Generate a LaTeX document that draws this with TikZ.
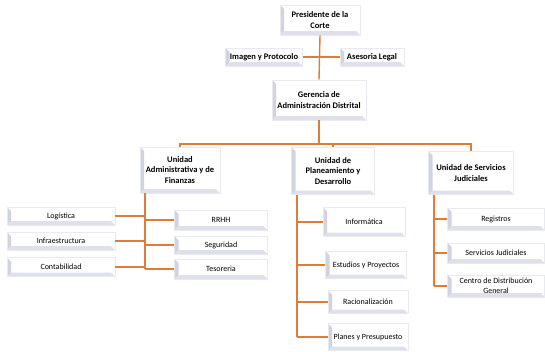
\documentclass[tikz,border=0pt]{standalone}
\usepackage{fontspec}
\setmainfont{Carlito}
\definecolor{link}{RGB}{224,124,58}
\definecolor{bevelL}{RGB}{208,212,224}
\definecolor{bevelB}{RGB}{222,225,234}
\definecolor{frame}{RGB}{232,234,240}
\begin{document}
\begin{tikzpicture}[x=1pt,y=-1pt,
  orgbox/.style={rectangle, fill=white, draw=frame, line width=0.6pt,
    align=center, inner sep=1pt, font=\fontsize{8}{10}\selectfont,
    path picture={
      \fill[bevelL] (path picture bounding box.south west)
        -- (path picture bounding box.north west)
        -- ([shift={(4pt,-4pt)}]path picture bounding box.north west)
        -- ([shift={(4pt,4pt)}]path picture bounding box.south west) -- cycle;
      \fill[bevelB] (path picture bounding box.south west)
        -- ([shift={(4pt,4pt)}]path picture bounding box.south west)
        -- ([shift={(-4pt,4pt)}]path picture bounding box.south east)
        -- (path picture bounding box.south east) -- cycle;
    }},
  headbox/.style={orgbox, font=\bfseries\fontsize{8.5}{10.5}\selectfont},
  wire/.style={draw=link, line width=1.4pt}]
\useasboundingbox (0,0) rectangle (545,351);

% top level
\node[headbox, minimum width=80pt, minimum height=30pt] (pres) at (320,20) {Presidente de la\\Corte};
\node[headbox, minimum width=77pt, minimum height=18pt] (img) at (264,57) {Imagen y Protocolo};
\node[headbox, minimum width=64pt, minimum height=18pt] (ase) at (372,57) {Asesoria Legal};
\node[headbox, minimum width=94pt, minimum height=40pt] (ger) at (319,100) {Gerencia de\\Administración Distrital};

% units
\node[headbox, minimum width=80pt, minimum height=46pt] (adm) at (180,170) {Unidad\\Administrativa y de\\Finanzas};
\node[headbox, minimum width=83pt, minimum height=47pt] (pla) at (333,171) {Unidad de\\Planeamiento y\\Desarrollo};
\node[headbox, minimum width=85pt, minimum height=43pt] (sju) at (471,173) {Unidad de Servicios\\Judiciales};

% administrative branch
\node[orgbox, minimum width=108pt, minimum height=18pt] (log) at (61,216) {Logística};
\node[orgbox, minimum width=108pt, minimum height=18pt] (inf) at (61,241) {Infraestructura};
\node[orgbox, minimum width=108pt, minimum height=19pt] (con) at (61,267) {Contabilidad};
\node[orgbox, minimum width=93pt, minimum height=20pt] (rrh) at (221,220) {RRHH};
\node[orgbox, minimum width=93pt, minimum height=18pt] (seg) at (221,245) {Seguridad};
\node[orgbox, minimum width=93pt, minimum height=20pt] (tes) at (221,269) {Tesoreria};

% planning branch
\node[orgbox, minimum width=82pt, minimum height=29pt] (inm) at (364,222) {Informática};
\node[orgbox, minimum width=81pt, minimum height=27pt] (est) at (366,265) {Estudios y Proyectos};
\node[orgbox, minimum width=80pt, minimum height=23pt] (rac) at (368,302) {Racionalización};
\node[orgbox, minimum width=80pt, minimum height=27pt] (pre) at (368,337) {Planes y Presupuesto};

% judicial services branch
\node[orgbox, minimum width=97pt, minimum height=22pt] (reg) at (496,219) {Registros};
\node[orgbox, minimum width=97pt, minimum height=20pt] (sjd) at (496,253) {Servicios Judiciales};
\node[orgbox, minimum width=97pt, minimum height=22pt] (cdg) at (496,286) {Centro de Distribución\\General};

% junction points
\coordinate (bus) at (319,144);
\coordinate (trA) at (145,0);
\coordinate (trP) at (297,0);
\coordinate (trS) at (434,0);

% top connectors
\draw[wire] (pres.south) -- (ger.north);
\draw[wire] (img.east) -- (ase.west);
\draw[wire] (ger.south) -- (bus);
\draw[wire] (adm.north) |- (bus) -| (sju.north);
\draw[wire] (bus) -| (pla.north);

% administrative connectors
\draw[wire] (adm.south -| trA) -- (tes.west -| trA);
\foreach \n in {log,inf,con} \draw[wire] (\n.east) -- (\n.east -| trA);
\foreach \n in {rrh,seg,tes} \draw[wire] (\n.west) -- (\n.west -| trA);

% planning connectors
\draw[wire] (pla.south -| trP) -- (pre.west -| trP);
\foreach \n in {inm,est,rac,pre} \draw[wire] (\n.west) -- (\n.west -| trP);

% judicial services connectors
\draw[wire] (sju.south -| trS) -- (cdg.west -| trS);
\foreach \n in {reg,sjd,cdg} \draw[wire] (\n.west) -- (\n.west -| trS);
\end{tikzpicture}
\end{document}
